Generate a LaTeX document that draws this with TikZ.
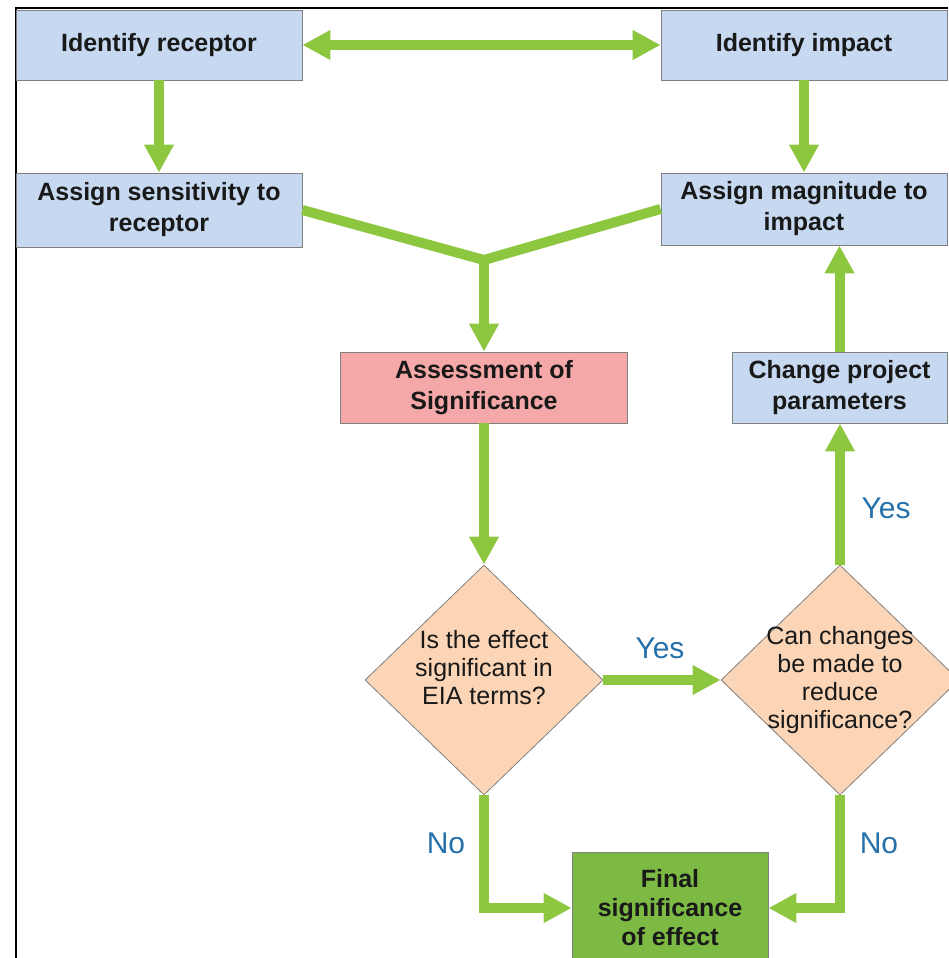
\documentclass[tikz,border=0pt]{standalone}
\usepackage{fontspec}
\setmainfont{Liberation Sans}
\usetikzlibrary{arrows.meta,shapes.geometric}
\definecolor{boxblue}{RGB}{198,217,240}
\definecolor{boxedge}{RGB}{128,128,128}
\definecolor{pinkred}{RGB}{245,168,168}
\definecolor{peach}{RGB}{251,213,182}
\definecolor{leaf}{RGB}{141,198,63}
\definecolor{finalgreen}{RGB}{124,186,68}
\definecolor{yesno}{RGB}{38,113,170}

\begin{document}
\begin{tikzpicture}[x=0.5pt,y=-0.5pt,>={Triangle[width=14pt,length=14pt]},
    box/.style={draw=boxedge,fill=boxblue,text=black!90,align=center,inner sep=0pt,font=\bfseries\fontsize{12.5}{15.5}\selectfont},
    ask/.style={diamond,draw=boxedge,fill=peach,inner sep=0pt,minimum width=119pt,minimum height=115pt},
    asktext/.style={align=center,text=black!90,font=\fontsize{12.5}{14}\selectfont},
    flow/.style={draw=leaf,line width=5pt},
    reply/.style={text=yesno,font=\fontsize{15}{18}\selectfont}]
    \useasboundingbox (0,0) rectangle (948,958);
    \draw[line width=0.75pt] (16,958)--(16,8)--(948,8);
    \node[box,minimum width=143pt,minimum height=35pt] (recep) at (159,45) {Identify receptor};
    \node[box,minimum width=143pt,minimum height=35pt] (impact) at (804,45) {Identify impact};
    \node[box,minimum width=143pt,minimum height=37pt] (sens) at (159,210) {Assign sensitivity to\\receptor};
    \node[box,minimum width=143pt,minimum height=36pt] (magn) at (804,209) {Assign magnitude to\\impact};
    \node[box,fill=pinkred,minimum width=143.5pt,minimum height=35.5pt] (assess) at (484,387.5) {Assessment of\\Significance};
    \node[box,minimum width=107.5pt,minimum height=35.5pt] (change) at (839.5,387.5) {Change project\\parameters};
    \node[ask,label={[asktext,yshift=6pt]center:Is the effect\\significant in\\EIA terms?}] (q1) at (484,680) {};
    \node[ask,label={[asktext]center:Can changes\\be made to\\reduce\\significance?}] (q2) at (840,680) {};
    \node[box,fill=finalgreen,minimum width=98pt,minimum height=56pt,font=\bfseries\fontsize{12.5}{14.5}\selectfont] (final) at (670,908) {Final\\significance\\of effect};
    \coordinate (merge) at (484,260);
    \draw[flow,<->] (recep) -- (impact);
    \draw[flow,->] (recep) -- (sens);
    \draw[flow,->] (impact) -- (magn);
    \draw[flow] (sens.east) -- (merge) -- (magn.west);
    \draw[flow,->] (merge) -- (assess);
    \draw[flow,->] (assess) -- (q1);
    \draw[flow,->] (q1) -- (q2);
    \draw[flow,->] (q2.north) -- (q2.north |- change.south);
    \draw[flow,->] (change.north) -- (change.north |- magn.south);
    \draw[flow,->] (q1.south) |- (final.west);
    \draw[flow,->] (q2.south) |- (final.east);
    \node[reply] (yesA) at (660,648) {Yes};
    \node[reply] (yesB) at (886,508) {Yes};
    \node[reply] (noA) at (446,843) {No};
    \node[reply] (noB) at (879,843) {No};
\end{tikzpicture}
\end{document}
